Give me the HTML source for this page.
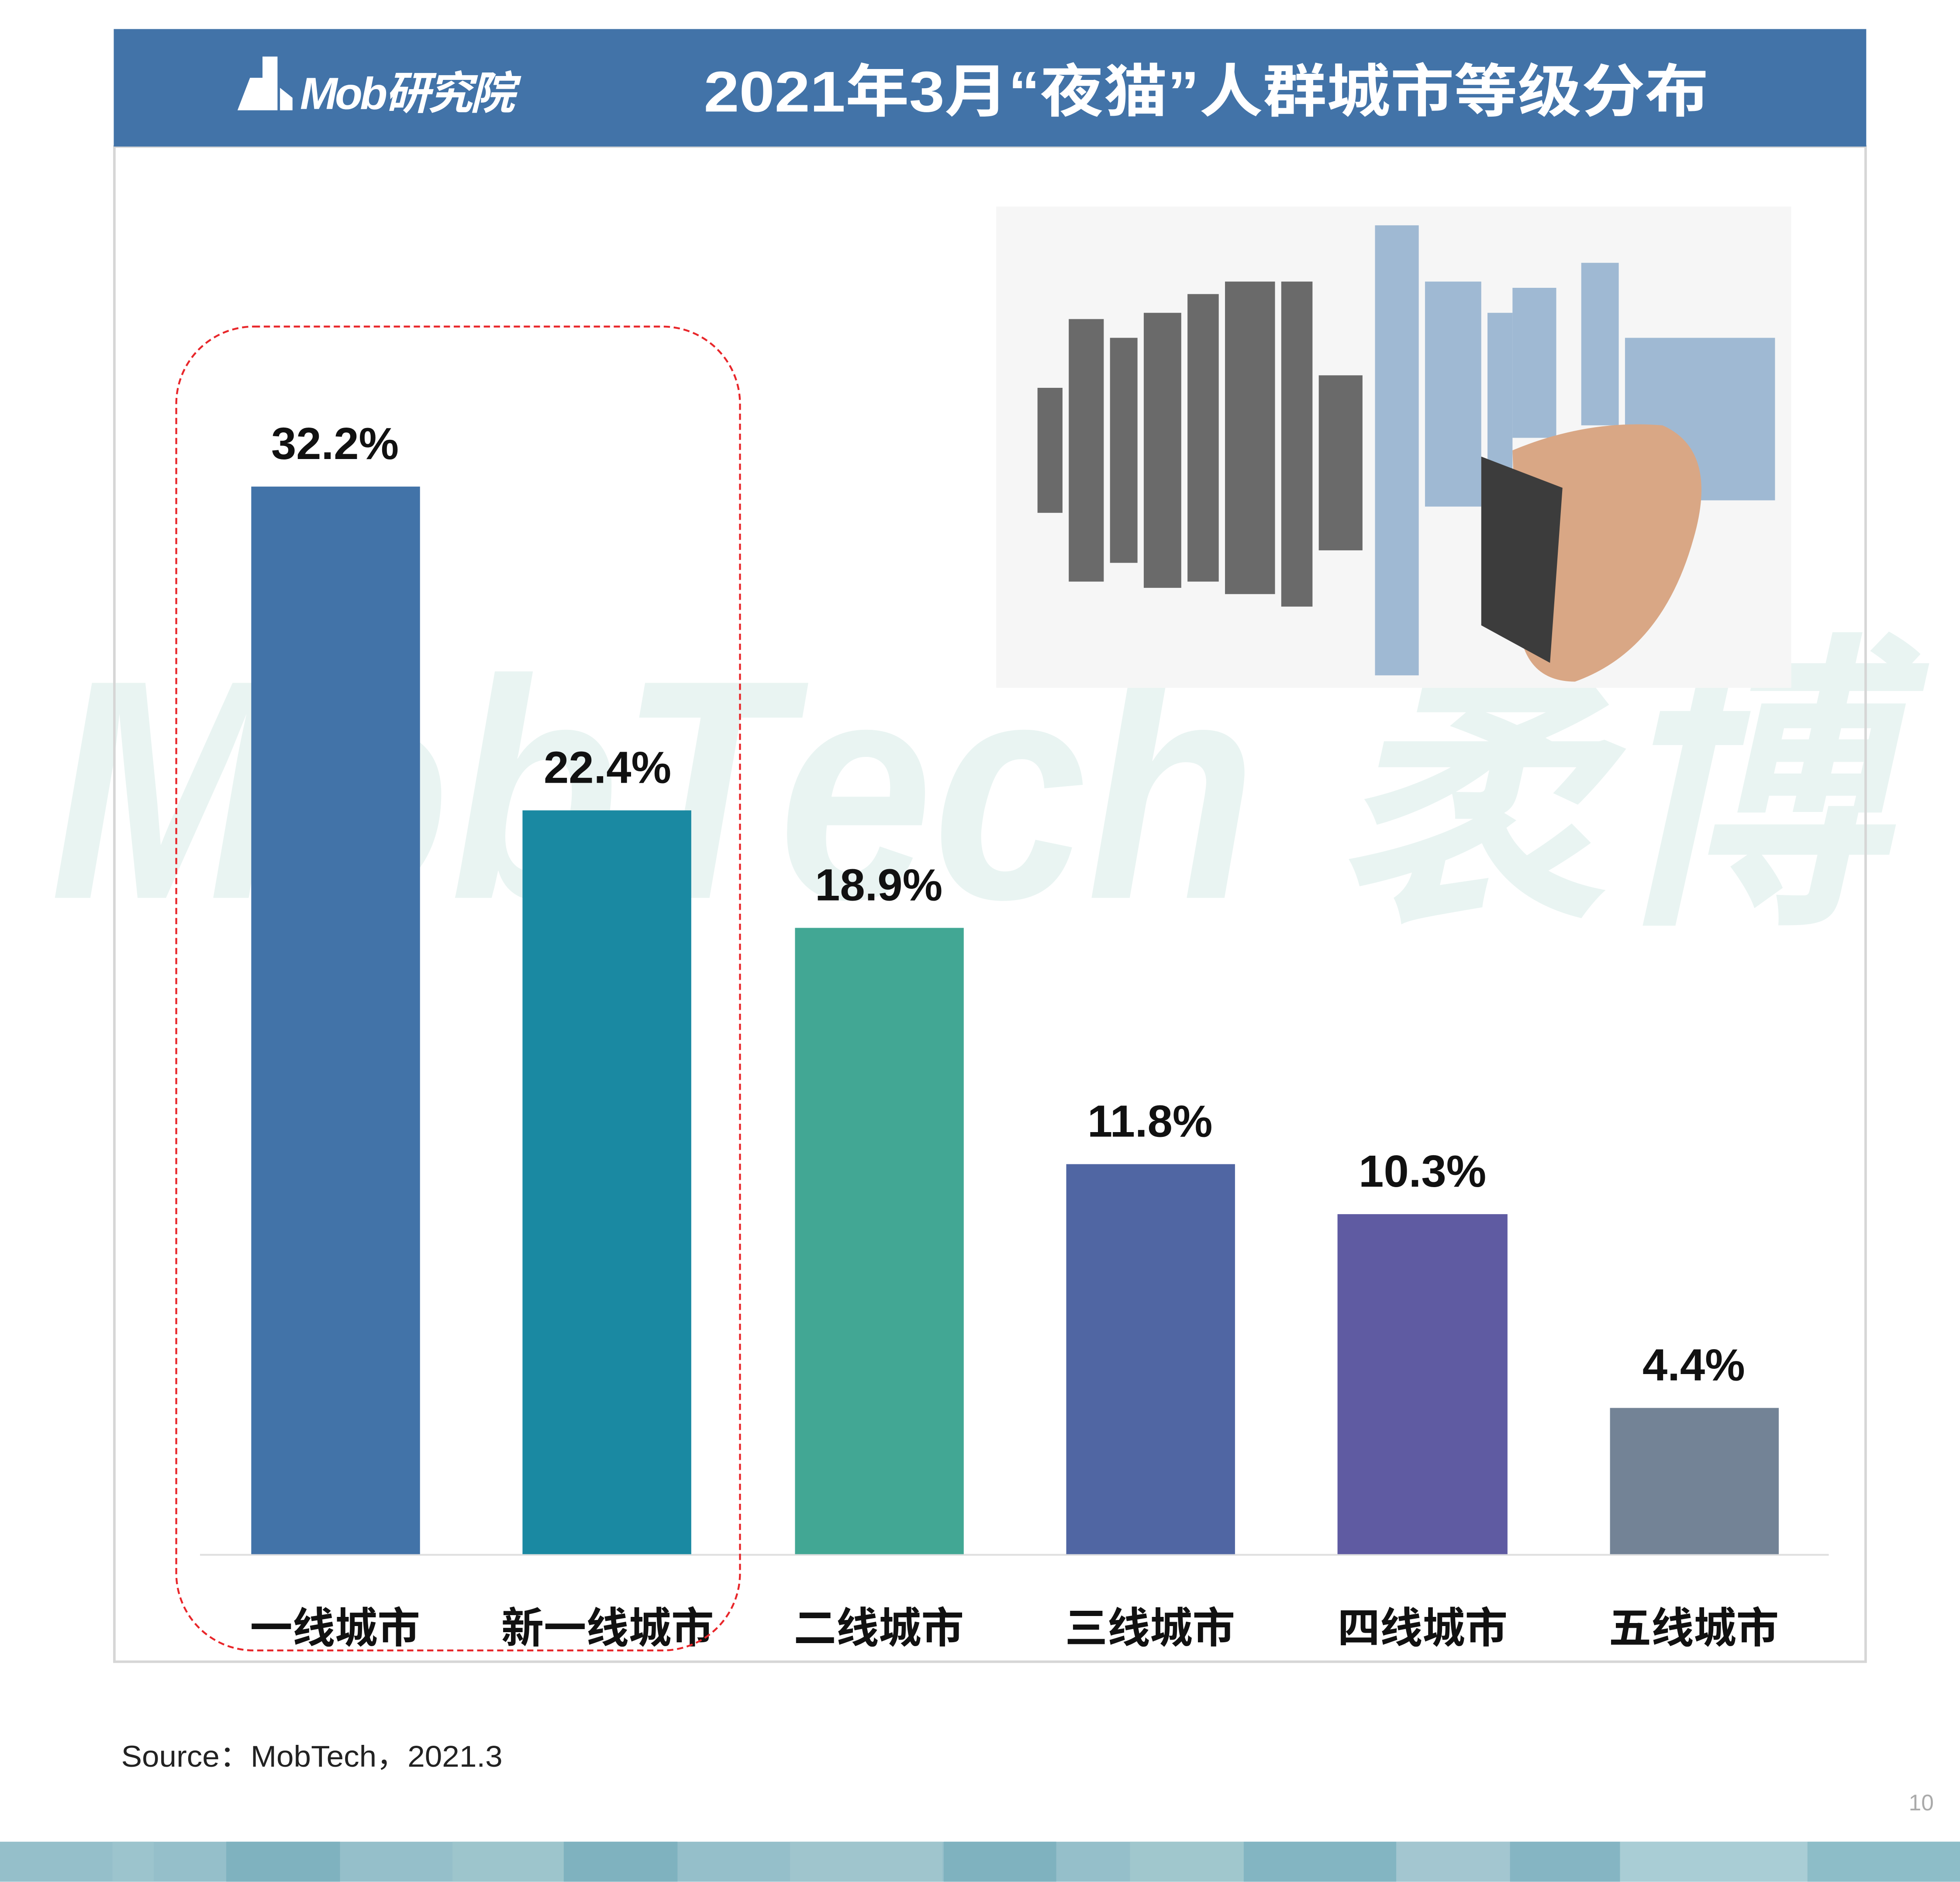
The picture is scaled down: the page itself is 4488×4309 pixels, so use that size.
<!DOCTYPE html>
<html><head><meta charset="utf-8"><style>
html,body{margin:0;padding:0;background:#fff;}
svg{display:block;}
text{font-family:"Liberation Sans","Noto Sans CJK SC",sans-serif;}
</style></head><body>
<svg width="4488" height="4309" viewBox="0 0 1568 1505" xmlns="http://www.w3.org/2000/svg">
<rect width="1568" height="1505" fill="#fff"/>
<!-- watermark -->
<text x="40" y="718" font-size="250" font-weight="bold" font-style="italic" fill="#e9f4f2" textLength="1470" lengthAdjust="spacingAndGlyphs">MobTech 袤博</text>
<!-- box -->
<rect x="91.5" y="117" width="1401" height="1212" fill="none" stroke="#d6d6d6" stroke-width="2"/>
<rect x="91" y="23" width="1402" height="94" fill="#4273a8"/>
<text x="240" y="87" font-size="36" font-weight="bold" font-style="italic" fill="#fff" letter-spacing="-2">Mob研究院</text>
<path d="M190 88 L200 62 L210 62 L210 45 L222 45 L222 88 Z M224 88 L224 70 L234 78 L234 88 Z" fill="#fff"/>
<text x="563" y="89" font-size="46" font-weight="bold" fill="#fff" textLength="804" lengthAdjust="spacingAndGlyphs">2021年3月“夜猫”人群城市等级分布</text>
<!-- city image -->
<rect x="797" y="165" width="636" height="385" fill="#f6f6f6"/>
<g fill="#6a6a6a">
<rect x="830" y="310" width="20" height="100"/><rect x="855" y="255" width="28" height="210"/><rect x="888" y="270" width="22" height="180"/>
<rect x="915" y="250" width="30" height="220"/><rect x="950" y="235" width="25" height="230"/><rect x="980" y="225" width="40" height="250"/>
<rect x="1025" y="225" width="25" height="260"/><rect x="1055" y="300" width="35" height="140"/>
</g>
<g fill="#9fb9d3">
<rect x="1100" y="180" width="35" height="360"/><rect x="1140" y="225" width="45" height="180"/><rect x="1190" y="250" width="20" height="150"/>
<rect x="1210" y="230" width="35" height="120"/><rect x="1265" y="210" width="30" height="130"/><rect x="1300" y="270" width="120" height="130"/>
</g>
<path d="M1210 360 Q1270 335 1330 340 Q1375 360 1355 430 Q1330 520 1260 545 Q1220 545 1215 500 Z" fill="#d9a785"/>
<path d="M1185 365 L1250 390 L1240 530 L1185 500 Z" fill="#3c3c3c"/>
<!-- bars -->
<line x1="160" y1="1243.5" x2="1463" y2="1243.5" stroke="#e0e0e0" stroke-width="1.5"/>
<rect x="201" y="389" width="135" height="854" fill="#4273a8"/>
<rect x="418" y="648" width="135" height="595" fill="#1a89a2"/>
<rect x="636" y="742" width="135" height="501" fill="#42a794"/>
<rect x="853" y="931" width="135" height="312" fill="#5066a3"/>
<rect x="1070" y="971" width="136" height="272" fill="#5f5ba2"/>
<rect x="1288" y="1126" width="135" height="117" fill="#738396"/>
<g font-size="36" font-weight="bold" fill="#111" text-anchor="middle">
<text x="268" y="367">32.2%</text><text x="486" y="626">22.4%</text><text x="703" y="720">18.9%</text>
<text x="920" y="909">11.8%</text><text x="1138" y="949">10.3%</text><text x="1355" y="1104">4.4%</text>
</g>
<g font-size="34" font-weight="bold" fill="#111" text-anchor="middle">
<text x="268" y="1314">一线城市</text><text x="486" y="1314">新一线城市</text><text x="703" y="1314">二线城市</text>
<text x="920" y="1314">三线城市</text><text x="1138" y="1314">四线城市</text><text x="1355" y="1314">五线城市</text>
</g>
<rect x="141" y="261" width="451" height="1059" rx="62" fill="none" stroke="#e8262a" stroke-width="1.5" stroke-dasharray="5,3"/>
<text x="97" y="1413" font-size="24" fill="#222" textLength="305" lengthAdjust="spacingAndGlyphs">Source：MobTech，2021.3</text>
<text x="1527" y="1448" font-size="18" fill="#aaa">10</text>
<!-- bottom strip -->
<rect x="0" y="1473" width="1568" height="32" fill="#95bfca"/>
<g>
<rect x="90" y="1473" width="33" height="32" fill="#9cc4cd"/><rect x="181" y="1473" width="91" height="32" fill="#7fb2bf"/>
<rect x="362" y="1473" width="89" height="32" fill="#9dc5cc"/><rect x="451" y="1473" width="91" height="32" fill="#7fb2bf"/>
<rect x="632" y="1473" width="122" height="32" fill="#9fc5cd"/><rect x="755" y="1473" width="90" height="32" fill="#7fb2bf"/>
<rect x="904" y="1473" width="91" height="32" fill="#a0c7cd"/><rect x="995" y="1473" width="122" height="32" fill="#83b5c2"/>
<rect x="1117" y="1473" width="91" height="32" fill="#a3c6d0"/><rect x="1208" y="1473" width="88" height="32" fill="#85b5c3"/>
<rect x="1296" y="1473" width="150" height="32" fill="#a9cdd5"/><rect x="1446" y="1473" width="122" height="32" fill="#8dbdc8"/>
</g>
</svg>
</body></html>
